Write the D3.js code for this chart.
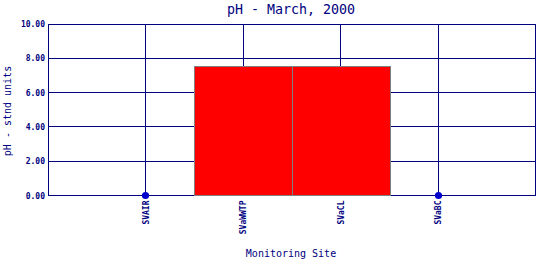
<!DOCTYPE html>
<html><head><meta charset="utf-8">
<script src="https://cdn.jsdelivr.net/npm/d3@7"></script>
<style>body{margin:0;background:#fff}svg{display:block}</style>
</head><body>
<svg id="c" width="540" height="260"></svg>
<script>
const sites = ["SVAIR", "SVaWWTP", "SVaCL", "SVaBC"];
const phValues = [null, 7.5, 7.5, null];
const yTicks = [0, 2, 4, 6, 8, 10];
const title = "pH - March, 2000";
const xTitle = "Monitoring Site";
const yTitle = "pH - stnd units";

const navy = "#000080";
const svg = d3.select("#c");
const L = 48, R = 536, T = 24, B = 195.5;

const x = d3.scalePoint().domain(sites).range([L, R]).padding(1);
const step = x.step();
const y = d3.scaleLinear().domain([0, 10]).range([B, T]);
const py = v => Math.floor(y(v)) + 0.5;

// grid
svg.append("g").selectAll("line").data(yTicks).join("line")
  .attr("x1", L).attr("x2", R)
  .attr("y1", d => py(d)).attr("y2", d => py(d))
  .attr("stroke", navy).attr("stroke-width", 1);
svg.append("g").selectAll("line").data(sites).join("line")
  .attr("x1", d => Math.floor(x(d)) + 0.5).attr("x2", d => Math.floor(x(d)) + 0.5)
  .attr("y1", T).attr("y2", B)
  .attr("stroke", navy).attr("stroke-width", 1);

// frame
svg.append("rect").attr("x", L + 0.5).attr("y", py(10))
  .attr("width", R - L - 1).attr("height", py(0) - py(10))
  .attr("fill", "none").attr("stroke", navy).attr("stroke-width", 1);

// bars
const data = sites.map((s, i) => ({s, v: phValues[i]}));
svg.append("g").selectAll("rect").data(data.filter(d => d.v != null)).join("rect")
  .attr("x", d => Math.round(x(d.s) - step / 2) + 0.5)
  .attr("width", Math.round(step))
  .attr("y", d => py(d.v))
  .attr("height", d => py(0) - py(d.v))
  .attr("fill", "#ff0000").attr("stroke", "#808080").attr("stroke-width", 1);

// dots for missing values
svg.append("g").selectAll("circle").data(data.filter(d => d.v == null)).join("circle")
  .attr("cx", d => Math.floor(x(d.s)) + 0.5).attr("cy", py(0))
  .attr("r", 3.6).attr("fill", "#0000cc");

// y axis labels
svg.append("g").selectAll("text").data(yTicks).join("text")
  .attr("x", 45).attr("y", d => y(d) + 3)
  .attr("text-anchor", "end")
  .attr("font-family", "DejaVu Sans Mono").attr("font-weight", "bold")
  .attr("font-size", 8).attr("fill", navy)
  .text(d => d3.format(".2f")(d));

// x category labels
svg.append("g").selectAll("text").data(sites).join("text")
  .attr("transform", d => `translate(${x(d) + 3},${B + 5}) rotate(-90)`)
  .attr("text-anchor", "end")
  .attr("font-family", "DejaVu Sans Mono").attr("font-weight", "bold")
  .attr("font-size", 8).attr("fill", navy)
  .text(d => d);

// titles
svg.append("text").attr("x", 291).attr("y", 14).attr("text-anchor", "middle")
  .attr("font-family", "DejaVu Sans Mono").attr("font-size", 13.3).attr("fill", navy)
  .text(title);
svg.append("text").attr("x", 291).attr("y", 257).attr("text-anchor", "middle")
  .attr("font-family", "DejaVu Sans Mono").attr("font-size", 10).attr("fill", navy)
  .text(xTitle);
svg.append("text").attr("transform", "translate(11,111) rotate(-90)").attr("text-anchor", "middle")
  .attr("font-family", "DejaVu Sans Mono").attr("font-size", 10).attr("fill", navy)
  .text(yTitle);
</script>
</body></html>
